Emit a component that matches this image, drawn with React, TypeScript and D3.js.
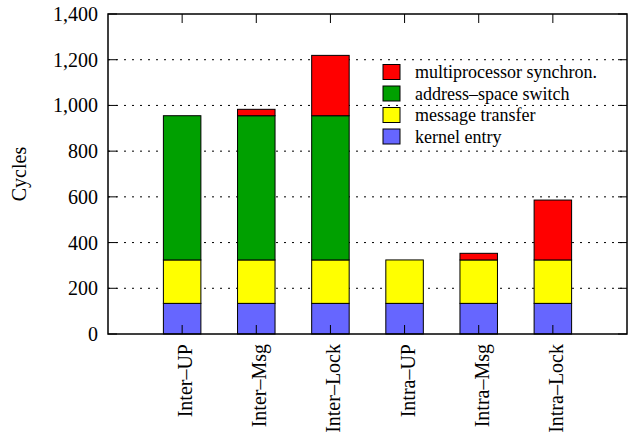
import React from "react";
import * as d3 from "d3";

const categories = ["Inter–UP", "Inter–Msg", "Inter–Lock", "Intra–UP", "Intra–Msg", "Intra–Lock"];
const kernelEntry = [134, 134, 134, 134, 134, 134];
const messageTransfer = [190, 190, 190, 190, 190, 190];
const addressSpaceSwitch = [631, 631, 631, 0, 0, 0];
const multiprocessorSync = [0, 28, 264, 0, 29, 262];
const yTicks = [0, 200, 400, 600, 800, 1000, 1200, 1400];

const seriesKeys = ["kernel", "message", "address", "sync"];
const seriesColors: Record<string, string> = {
  kernel: "#6666ff",
  message: "#ffff00",
  address: "#00a000",
  sync: "#ff0000",
};
// legend top-to-bottom
const legendItems = [
  { key: "sync", label: "multiprocessor synchron." },
  { key: "address", label: "address–space switch" },
  { key: "message", label: "message transfer" },
  { key: "kernel", label: "kernel entry" },
];

const W = 629;
const H = 437;
const left = 108;
const right = 627;
const top = 14;
const bottom = 334;
const tickLen = 9;
const font = "Liberation Serif";

const App = () => {
  const rows = categories.map((c, i) => ({
    cat: c,
    kernel: kernelEntry[i],
    message: messageTransfer[i],
    address: addressSpaceSwitch[i],
    sync: multiprocessorSync[i],
  }));
  const stacked = d3.stack<any>().keys(seriesKeys)(rows);

  const x = d3.scaleLinear().domain([-1, categories.length]).range([left, right]);
  const y = d3.scaleLinear().domain([0, 1400]).range([bottom, top]);
  const barW = 37.5;

  const txt = { fontFamily: font, fill: "#000" };

  return (
    <svg width={W} height={H} style={{ position: "absolute", left: 0, top: 0, background: "#fff" }}>
      {/* grid */}
      {yTicks
        .filter((t) => t > 0 && t < 1400)
        .map((t) => (
          <line
            key={"g" + t}
            x1={left}
            x2={right}
            y1={y(t)}
            y2={y(t)}
            stroke="#000"
            strokeWidth={1}
            strokeDasharray="2,6"
          />
        ))}

      {/* bars */}
      {stacked.map((s) => (
        <g key={s.key} fill={seriesColors[s.key]}>
          {s.map((d, i) =>
            d[1] - d[0] > 0 ? (
              <rect
                key={i}
                x={x(i) - barW / 2}
                y={y(d[1])}
                width={barW}
                height={y(d[0]) - y(d[1])}
                stroke="#000"
                strokeWidth={1}
              />
            ) : null
          )}
        </g>
      ))}

      {/* frame */}
      <rect x={left} y={top} width={right - left} height={bottom - top} fill="none" stroke="#000" strokeWidth={1.5} />

      {/* y ticks + labels */}
      {yTicks.map((t) => (
        <g key={"y" + t}>
          <line x1={left} x2={left + tickLen} y1={y(t)} y2={y(t)} stroke="#000" />
          <line x1={right - tickLen} x2={right} y1={y(t)} y2={y(t)} stroke="#000" />
          <text x={98} y={y(t)} dy="0.35em" textAnchor="end" fontSize={20} style={txt}>
            {d3.format(",")(t)}
          </text>
        </g>
      ))}

      {/* x ticks + labels */}
      {categories.map((c, i) => (
        <g key={"x" + i}>
          <line x1={x(i)} x2={x(i)} y1={top} y2={top + tickLen} stroke="#000" />
          <line x1={x(i)} x2={x(i)} y1={bottom} y2={bottom - tickLen} stroke="#000" />
          <text
            transform={`translate(${x(i) + 3},344) rotate(-90)`}
            dy="0.35em"
            textAnchor="end"
            fontSize={20}
            style={txt}
          >
            {c}
          </text>
        </g>
      ))}

      {/* y axis title */}
      <text transform={`translate(26,174) rotate(-90)`} textAnchor="middle" fontSize={20} style={txt}>
        Cycles
      </text>

      {/* legend */}
      {legendItems.map((it, i) => (
        <g key={it.key} transform={`translate(383,${64.5 + i * 21.5})`}>
          <rect width={17} height={15} fill={seriesColors[it.key]} stroke="#000" strokeWidth={1} />
          <text x={32} y={7.5} dy="0.35em" fontSize={18} style={txt}>
            {it.label}
          </text>
        </g>
      ))}
    </svg>
  );
};

export default App;
